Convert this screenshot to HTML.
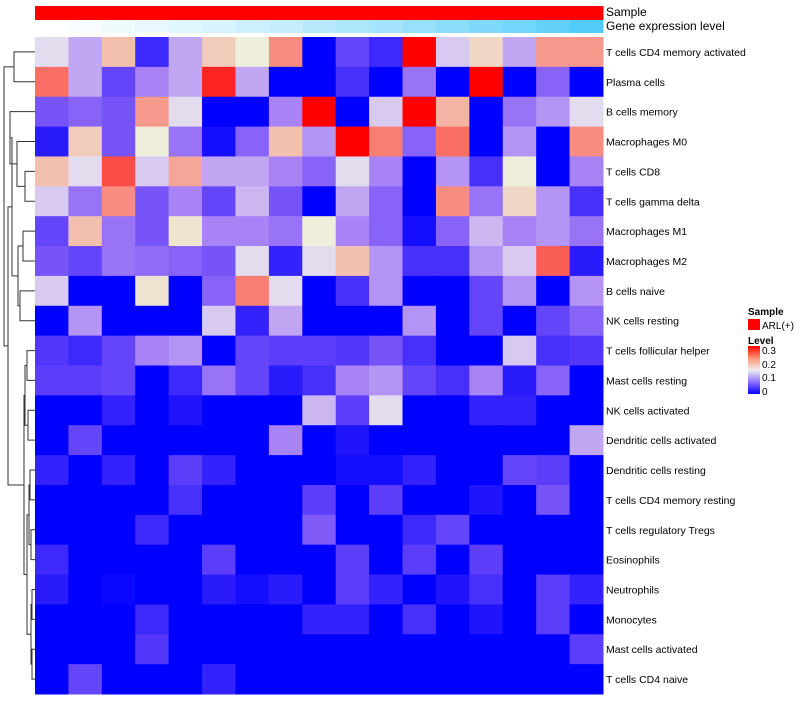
<!DOCTYPE html>
<html><head><meta charset="utf-8"><style>
body{margin:0;background:#fff;}
svg text{font-family:"Liberation Sans",sans-serif;fill:#000;}
</style></head><body>
<svg id="chart" width="800" height="700" xmlns="http://www.w3.org/2000/svg">
<g id="dendro" fill="none" stroke="#333" stroke-width="1"></g>
<g id="cells"></g>
<g id="annot"></g>
<g id="labels"></g>
<g>
<text x="748" y="315" font-size="10" font-weight="bold">Sample</text>
<rect x="748" y="319" width="12" height="11" fill="#ff0000"/>
<text x="762" y="329" font-size="10">ARL(+)</text>
<text x="748" y="344" font-size="10" font-weight="bold">Level</text>
<defs><linearGradient id="lg" x1="0" y1="1" x2="0" y2="0"><stop offset="0" stop-color="#0000ff"/><stop offset="0.25" stop-color="#9070ff"/><stop offset="0.5" stop-color="#eeeeee"/><stop offset="0.75" stop-color="#ff9070"/><stop offset="1" stop-color="#ff0000"/></linearGradient></defs>
<rect x="748" y="346" width="12" height="48" fill="url(#lg)"/>
<text x="762" y="354" font-size="10">0.3</text>
<text x="762" y="368" font-size="10">0.2</text>
<text x="762" y="381" font-size="10">0.1</text>
<text x="762" y="395" font-size="10">0</text>
</g>
</svg>
<script>
const rowNames=["T cells CD4 memory activated","Plasma cells","B cells memory","Macrophages M0","T cells CD8","T cells gamma delta","Macrophages M1","Macrophages M2","B cells naive","NK cells resting","T cells follicular helper","Mast cells resting","NK cells activated","Dendritic cells activated","Dendritic cells resting","T cells CD4 memory resting","T cells regulatory  Tregs","Eosinophils","Neutrophils","Monocytes","Mast cells activated","T cells CD4 naive"];
const geneExpr=[0,0.04,0.08,0.12,0.17,0.22,0.27,0.32,0.38,0.44,0.5,0.56,0.63,0.7,0.77,0.85,0.95];
const r0=[0.14,0.11,0.19,0.03,0.11,0.18,0.15,0.23,0,0.05,0.03,0.3,0.13,0.17,0.11,0.22,0.22];
const r1=[0.25,0.11,0.05,0.09,0.11,0.29,0.11,0,0,0.035,0,0.08,0,0.3,0,0.07,0];
const r2=[0.06,0.07,0.06,0.22,0.14,0,0,0.09,0.3,0,0.13,0.3,0.2,0,0.08,0.1,0.14];
const r3=[0.02,0.18,0.06,0.15,0.08,0.01,0.07,0.19,0.1,0.3,0.24,0.07,0.25,0,0.1,0,0.23];
const r4=[0.19,0.14,0.27,0.13,0.21,0.11,0.11,0.09,0.07,0.14,0.09,0,0.1,0.035,0.15,0,0.09];
const r5=[0.13,0.08,0.23,0.06,0.09,0.05,0.12,0.06,0,0.11,0.07,0,0.23,0.08,0.17,0.1,0.035];
const r6=[0.05,0.19,0.08,0.06,0.16,0.09,0.09,0.08,0.15,0.09,0.07,0.01,0.07,0.12,0.09,0.1,0.08];
const r7=[0.06,0.05,0.08,0.075,0.07,0.06,0.14,0.025,0.14,0.19,0.1,0.035,0.035,0.1,0.13,0.26,0.02];
const r8=[0.13,0,0,0.16,0,0.07,0.24,0.14,0,0.035,0.1,0,0,0.05,0.1,0,0.1];
const r9=[0,0.1,0,0,0,0.13,0.025,0.11,0,0,0,0.1,0,0.05,0,0.05,0.07];
const r10=[0.04,0.03,0.05,0.09,0.1,0,0.05,0.045,0.045,0.04,0.06,0.035,0,0,0.13,0.035,0.04];
const r11=[0.045,0.045,0.05,0,0.03,0.08,0.05,0.02,0.035,0.09,0.1,0.05,0.035,0.09,0.02,0.07,0];
const r12=[0,0,0.025,0,0.015,0,0,0,0.12,0.045,0.14,0,0,0.025,0.025,0,0];
const r13=[0,0.05,0,0,0,0,0,0.09,0,0.015,0,0,0,0,0,0,0.11];
const r14=[0.025,0,0.025,0,0.045,0.025,0,0,0,0.01,0.01,0.025,0,0,0.05,0.045,0];
const r15=[0,0,0,0,0.035,0,0,0,0.045,0,0.045,0,0,0.015,0,0.06,0];
const r16=[0,0,0,0.03,0,0,0,0,0.065,0,0,0.03,0.05,0,0,0,0];
const r17=[0.03,0,0,0,0,0.045,0,0,0,0.045,0,0.045,0,0.045,0,0,0];
const r18=[0.02,0,0.005,0,0,0.02,0.01,0.02,0,0.045,0.025,0,0.015,0.035,0,0.045,0.025];
const r19=[0,0,0,0.03,0,0,0,0,0.025,0.025,0,0.035,0,0.015,0,0.045,0];
const r20=[0,0,0,0.04,0,0,0,0,0,0,0,0,0,0,0,0,0.045];
const r21=[0,0.05,0,0,0,0.025,0,0,0,0,0,0,0,0,0,0,0];
const values=[r0,r1,r2,r3,r4,r5,r6,r7,r8,r9,r10,r11,r12,r13,r14,r15,r16,r17,r18,r19,r20,r21];
const merges=[[-1,-2,14],[-5,-6,25],[-4,1,17],[-3,2,10],[-7,-8,23],[-9,-10,20],[4,5,18],[3,6,12],
[-11,-12,27],[-13,-14,28],[8,9,25],[-15,-16,30],[-17,-18,31],[11,12,29],[-19,-20,32],[-21,-22,32],[14,15,31],[13,16,27],[10,17,24],[7,18,8],[0,19,4]];

const NS="http://www.w3.org/2000/svg";
const X0=35,X1=603,Y0=37,Y1=694;
const nC=values[0].length,nR=values.length;
const cw=(X1-X0)/nC,rh=(Y1-Y0)/nR;
const xPos=c=>X0+c*cw, yPos=r=>Y0+r*rh;
function colorFor(v){
  const t=Math.max(0,Math.min(1,v/0.3));
  let r,g,b;
  if(t<0.5){const u=t/0.5;const s=Math.sin(Math.PI*u);r=238*u+25*s;g=238*u-12*s;b=255-17*u;}
  else{const u=(t-0.5)/0.5;r=238+17*u;g=238*Math.pow(1-u,0.7);b=238*Math.pow(1-u,0.7)*0.92;}
  const cl=x=>Math.round(Math.max(0,Math.min(255,x)));
  return `rgb(${cl(r)},${cl(g)},${cl(b)})`;
}
const cells=document.getElementById('cells');
values.forEach((row,r)=>row.forEach((v,c)=>{
  const el=document.createElementNS(NS,'rect');
  el.setAttribute('x',xPos(c));el.setAttribute('y',yPos(r));
  el.setAttribute('width',cw+0.5);el.setAttribute('height',rh+0.5);
  el.setAttribute('fill',colorFor(v));
  
  
  cells.appendChild(el);
}));
const annot=document.getElementById('annot');
for(let c=0;c<nC;c++){
  const s=document.createElementNS(NS,'rect');
  s.setAttribute('x',xPos(c));s.setAttribute('y',6);s.setAttribute('width',cw+0.5);s.setAttribute('height',14);
  s.setAttribute('fill','#ff0000');
  
  
  annot.appendChild(s);
  const t=geneExpr[c];
  const g=document.createElementNS(NS,'rect');
  g.setAttribute('x',xPos(c));g.setAttribute('y',20);g.setAttribute('width',cw+0.5);g.setAttribute('height',13);
  g.setAttribute('fill',`rgb(${Math.round(255-183*t)},${Math.round(255-55*t)},${Math.round(255-7*t)})`);
  
  
  annot.appendChild(g);
}
[["Sample",16],["Gene expression level",30]].forEach(([txt,y])=>{
  const t=document.createElementNS(NS,'text');
  t.setAttribute('x',606);t.setAttribute('y',y);t.setAttribute('font-size','12');t.textContent=txt;
  
  
  annot.appendChild(t);
});
const labels=document.getElementById('labels');
rowNames.forEach((n,r)=>{
  const t=document.createElementNS(NS,'text');
  t.setAttribute('x',606);t.setAttribute('y',yPos(r)+rh/2+4);t.setAttribute('font-size','10.5');
  t.textContent=n;
  
  
  labels.appendChild(t);
});
const dendro=document.getElementById('dendro');
const nodeInfo=[];
function info(n){ if(n<0){const r=-n-1;return {x:35,y:yPos(r)+rh/2};} return nodeInfo[n]; }
let d="";
merges.forEach((m,i)=>{
  const a=info(m[0]),b=info(m[1]),h=m[2];
  d+=`M${a.x},${a.y}H${h}V${b.y}H${b.x}`;
  nodeInfo[i]={x:h,y:(a.y+b.y)/2};
});
const p=document.createElementNS(NS,'path');
p.setAttribute('d',d);


dendro.appendChild(p);
</script>
</body></html>
